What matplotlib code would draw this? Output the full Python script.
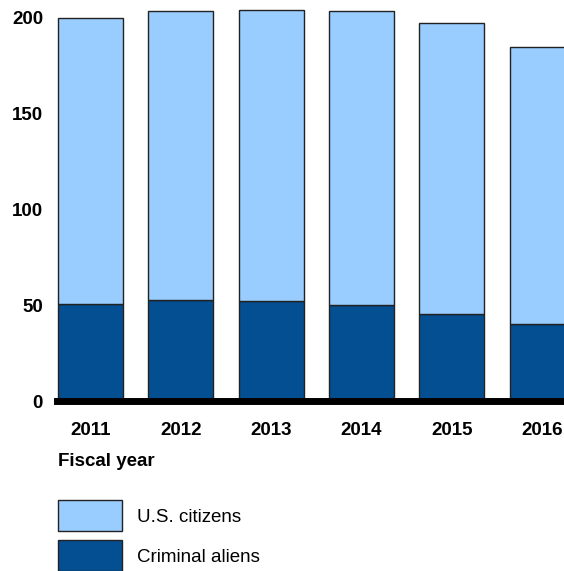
import matplotlib
matplotlib.use("Agg")
import matplotlib.pyplot as plt
from matplotlib.patches import Rectangle

years = ["2011", "2012", "2013", "2014", "2015", "2016"]
criminal_aliens = [50.5, 52.5, 52.0, 50.0, 45.5, 40.0]
us_citizens = [149.0, 151.0, 152.0, 153.5, 151.5, 144.5]
yticks = [0, 50, 100, 150, 200]

light = "#99CCFF"
dark = "#044F92"
edge = "#222222"

W, H = 564, 571
fig = plt.figure(figsize=(W / 100, H / 100), dpi=100)
plt.rcParams["font.family"] = ["Liberation Sans", "DejaVu Sans"]
FS = 13.5

ax = fig.add_axes([57 / W, (H - 401) / H, 1 - 57 / W, 401 / H])
x = list(range(len(years)))
ax.bar(x, criminal_aliens, width=0.72, color=dark, edgecolor=edge, linewidth=1.0, zorder=2)
ax.bar(x, us_citizens, bottom=criminal_aliens, width=0.72, color=light, edgecolor=edge,
       linewidth=1.0, zorder=2)

ax.set_xlim(-0.37, 5.24)
ax.set_ylim(0, 209)
for s in ["top", "right", "left"]:
    ax.spines[s].set_visible(False)
ax.spines["bottom"].set_linewidth(5)
ax.spines["bottom"].set_color("black")
ax.spines["bottom"].set_zorder(3)
ax.set_yticks(yticks)
ax.set_yticklabels([str(v) for v in yticks], fontsize=FS, fontweight="bold")
ax.set_xticks(x)
ax.set_xticklabels(years, fontsize=FS, fontweight="bold")
ax.tick_params(axis="y", length=0, pad=10)
ax.tick_params(axis="x", length=0, pad=15)
ax.set_facecolor("white")

fig.text(58 / W, 1 - 462 / H, "Fiscal year", fontsize=FS, fontweight="bold",
         ha="left", va="center")

# legend
for i, (lab, col) in enumerate([("U.S. citizens", light), ("Criminal aliens", dark)]):
    top = 500 + i * 40
    fig.add_artist(Rectangle((58 / W, 1 - (top + 31) / H), 64 / W, 31 / H,
                             transform=fig.transFigure, facecolor=col,
                             edgecolor=edge, linewidth=1.0))
    fig.text(137 / W, 1 - (top + 17) / H, lab, fontsize=FS, ha="left", va="center")

fig.savefig("out.png", dpi=100, facecolor="white")
